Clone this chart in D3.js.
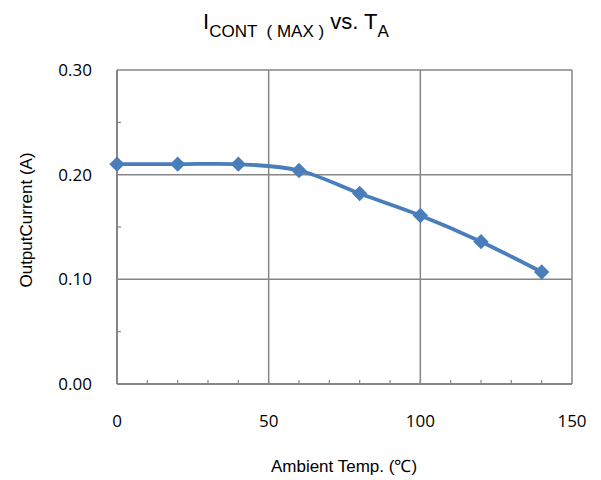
<!DOCTYPE html>
<html>
<head>
<meta charset="utf-8">
<script src="https://cdn.jsdelivr.net/npm/d3@7"></script>
<style>
  body { margin: 0; background: #fff; }
</style>
</head>
<body>
<script>
var temps = [0, 20, 40, 60, 80, 100, 120, 140];
var currents = [0.210, 0.210, 0.210, 0.204, 0.182, 0.161, 0.136, 0.107];
var xTicks = [0, 50, 100, 150];
var yTicks = [0.00, 0.10, 0.20, 0.30];

var data = temps.map(function (t, i) {
    return { t: t, a: currents[i] };
});

var margin = { top: 70, right: 29, bottom: 96, left: 117 },
    width = 601 - margin.left - margin.right,
    height = 480 - margin.top - margin.bottom;

var svg = d3.select('body').append('svg')
    .attr('width', 601)
    .attr('height', 480);

var x = d3.scaleLinear().domain([0, 150]).range([0, width]);
var y = d3.scaleLinear().domain([0, 0.30]).range([height, 0]);

var main = svg.append('g')
    .attr('transform', 'translate(' + margin.left + ',' + margin.top + ')');

// grid
main.selectAll('.vgrid')
    .data(xTicks.slice(1))
    .enter().append('line')
    .attr('x1', function (d) { return x(d); })
    .attr('x2', function (d) { return x(d); })
    .attr('y1', 0).attr('y2', height)
    .attr('stroke', '#868686').attr('stroke-width', 1.5);

main.selectAll('.hgrid')
    .data(yTicks.slice(1))
    .enter().append('line')
    .attr('x1', 0).attr('x2', width)
    .attr('y1', function (d) { return y(d); })
    .attr('y2', function (d) { return y(d); })
    .attr('stroke', '#868686').attr('stroke-width', 1.5);

// minor ticks (inside)
main.selectAll('.xminor')
    .data(d3.range(10, 150, 10))
    .enter().append('line')
    .attr('x1', function (d) { return x(d); })
    .attr('x2', function (d) { return x(d); })
    .attr('y1', height).attr('y2', height - 4)
    .attr('stroke', '#868686').attr('stroke-width', 1.2);

main.selectAll('.yminor')
    .data([0.05, 0.15, 0.25])
    .enter().append('line')
    .attr('x1', 0).attr('x2', 4)
    .attr('y1', function (d) { return y(d); })
    .attr('y2', function (d) { return y(d); })
    .attr('stroke', '#868686').attr('stroke-width', 1.2);

// axis lines
main.append('line')
    .attr('x1', 0).attr('x2', width)
    .attr('y1', height).attr('y2', height)
    .attr('stroke', '#868686').attr('stroke-width', 2);
main.append('line')
    .attr('x1', 0).attr('x2', 0)
    .attr('y1', 0).attr('y2', height)
    .attr('stroke', '#868686').attr('stroke-width', 2);

// tick labels
main.selectAll('.xlab')
    .data(xTicks)
    .enter().append('text')
    .attr('x', function (d) { return x(d); })
    .attr('y', height + 43)
    .attr('text-anchor', 'middle')
    .attr('font-family', '"Open Sans", sans-serif')
    .attr('font-size', 17)
    .text(function (d) { return d; });

main.selectAll('.ylab')
    .data(yTicks)
    .enter().append('text')
    .attr('x', -25)
    .attr('y', function (d) { return y(d) + 6; })
    .attr('text-anchor', 'end')
    .attr('font-family', '"Open Sans", sans-serif')
    .attr('font-size', 17)
    .text(function (d) { return d3.format('.2f')(d); });

// series
var line = d3.line()
    .x(function (d) { return x(d.t); })
    .y(function (d) { return y(d.a); })
    .curve(d3.curveCatmullRom.alpha(0.5));

main.append('path')
    .datum(data)
    .attr('d', line)
    .attr('fill', 'none')
    .attr('stroke', '#4a7ebb')
    .attr('stroke-width', 3.8);

main.selectAll('.pt')
    .data(data)
    .enter().append('path')
    .attr('transform', function (d) { return 'translate(' + x(d.t) + ',' + y(d.a) + ')'; })
    .attr('d', d3.symbol().type(d3.symbolDiamond2).size(150))
    .attr('fill', '#4a7ebb');

// titles
var title = svg.append('text')
    .attr('x', 296)
    .attr('y', 29)
    .attr('text-anchor', 'middle')
    .attr('font-family', '"Liberation Sans", Arial, sans-serif')
    .attr('font-size', 22)
    .style('white-space', 'pre');
title.append('tspan').text('I');
title.append('tspan').attr('font-size', 17).attr('dy', 8).text('CONT  ( MAX )');
title.append('tspan').attr('dy', -8).text(' vs. T');
title.append('tspan').attr('font-size', 17).attr('dy', 8).text('A');

svg.append('text')
    .attr('x', 344)
    .attr('y', 472)
    .attr('text-anchor', 'middle')
    .attr('font-family', '"Liberation Sans", Arial, sans-serif')
    .attr('font-size', 17)
    .text('Ambient Temp. (\u2103)');

svg.append('text')
    .attr('transform', 'translate(32,220) rotate(-90)')
    .attr('text-anchor', 'middle')
    .attr('font-family', '"Liberation Sans", Arial, sans-serif')
    .attr('font-size', 17)
    .text('OutputCurrent (A)');
</script>
</body>
</html>
